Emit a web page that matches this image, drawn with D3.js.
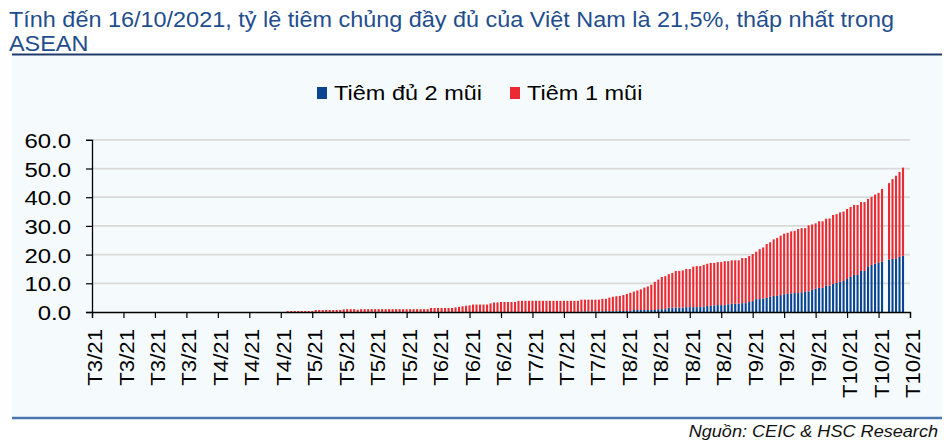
<!doctype html>
<html lang="vi">
  <head>
    <meta charset="utf-8">
    <title>Tỷ lệ tiêm chủng Việt Nam</title>
    <script src="https://d3js.org/d3.v7.min.js"></script>
    <style>
    body { margin: 0; background: #fff; }
    text { font-family: "Liberation Sans", Arial, sans-serif; }
    </style>
  </head>

  <body>
    <svg width="944" height="444"></svg>

    <script>
      // nhãn trục hoành, mỗi nhãn cách nhau 9 ngày
      var xLabels = ['T3/21','T3/21','T3/21','T3/21','T4/21','T4/21','T4/21',
        'T5/21','T5/21','T5/21','T5/21','T6/21','T6/21','T6/21','T7/21','T7/21',
        'T7/21','T8/21','T8/21','T8/21','T8/21','T9/21','T9/21','T9/21',
        'T10/21','T10/21','T10/21'];

      // % dân số đã tiêm ít nhất 1 mũi (đỉnh cột), theo ngày
      var tiemIt1Mui = [
        0,0,0,0,0,0,0,0,0,
        0,0,0,0,0,0,0,0,0,
        0,0,0,0,0,0,0,0,0,
        0,0,0,0,0,0,0,0,0,
        0,0,0,0,0,0,0,0,0,
        0,0,0,0,0,0,0,0,0,
        0,0,0.35,0.35,0.35,0.35,0.35,0.35,0.35,
        0.35,0.7,0.7,0.7,0.7,0.7,0.7,0.7,0.7,
        0.9,1.0,1.0,1.0,0.8,1.0,1.0,1.0,1.0,
        1.0,1.0,1.0,1.0,1.0,1.0,1.0,1.0,1.0,
        1.0,1.0,1.0,1.0,1.0,1.0,1.0,1.4,1.4,
        1.4,1.4,1.4,1.4,1.4,1.6,1.8,2.0,2.2,
        2.3,2.6,2.6,2.6,2.6,2.6,3.0,3.3,3.3,
        3.5,3.5,3.5,3.5,3.5,3.9,3.9,3.9,3.9,
        3.9,3.9,3.9,3.9,3.9,3.9,3.9,3.9,3.9,
        3.9,3.9,3.9,3.9,3.9,4.3,4.3,4.3,4.3,
        4.3,4.3,4.6,4.6,5.0,5.3,5.5,5.6,5.9,
        6.3,6.7,7.1,7.5,7.9,8.5,8.9,9.5,10.5,
        11.3,12.2,12.5,13.2,13.6,14.3,14.3,14.5,15.0,
        15.0,15.8,16.0,16.0,16.4,16.8,17.1,17.1,17.4,
        17.4,17.7,17.7,18.0,18.0,18.0,18.8,18.8,19.5,
        20.2,21.0,21.9,22.5,23.7,24.3,25.3,25.8,26.6,
        27.3,27.6,28.1,28.3,28.9,29.2,29.2,30.2,30.5,
        30.9,31.6,31.6,32.5,32.6,33.8,34.1,34.7,35.0,
        35.9,36.6,37.3,37.3,38.3,38.3,39.4,40.1,40.9,
        41.5,42.9,null,44.9,46.3,47.5,48.8,50.3
      ];

      // % dân số đã tiêm đủ 2 mũi, theo ngày
      var tiemDu2Mui = [
        0,0,0,0,0,0,0,0,0,
        0,0,0,0,0,0,0,0,0,
        0,0,0,0,0,0,0,0,0,
        0,0,0,0,0,0,0,0,0,
        0,0,0,0,0,0,0,0,0,
        0,0,0,0,0,0,0,0,0,
        0,0,0,0,0,0,0,0,0,
        0,0,0,0,0,0,0,0,0,
        0,0,0,0,0,0,0,0,0,
        0,0,0,0,0,0,0,0,0,
        0,0,0,0,0,0,0,0,0,
        0,0,0,0,0,0,0,0,0,
        0,0,0,0,0,0,0,0,0,
        0,0,0,0,0,0,0,0,0,
        0,0,0,0,0,0,0,0,0,
        0,0,0,0,0,0.2,0.2,0.2,0.2,
        0.2,0.2,0.3,0.3,0.3,0.3,0.3,0.35,0.35,
        0.35,0.35,0.7,0.7,0.7,0.7,0.7,0.7,0.7,
        1.0,1.0,1.0,1.5,1.5,1.5,1.5,1.5,1.7,
        1.7,1.7,1.7,1.7,1.9,2.1,2.1,2.3,2.4,
        2.4,2.4,2.7,2.9,2.9,2.9,3.1,3.1,3.5,
        3.8,4.5,4.5,4.7,4.9,5.3,5.6,5.6,5.9,
        6.2,6.3,6.5,6.6,6.6,6.9,7.0,7.2,7.7,
        8.1,8.4,8.4,9.1,9.2,9.8,10.1,10.5,10.8,
        11.5,12.2,12.9,12.9,14.3,14.3,15.7,16.4,16.8,
        17.1,17.5,null,18.2,18.5,18.5,19.2,19.6
      ];

      var yTicks = [0, 10, 20, 30, 40, 50, 60];
      var tickStep = 9;      // ngày giữa hai vạch
      var nSlots = 234;      // độ dài trục, tính bằng ngày

      var svg = d3.select('svg');
      var blue = '#0b4591', red = '#ec2a32';

      // chữ trong ảnh gốc hơi bè ngang -> kéo giãn theo chiều chữ
      function wideText(parent, tx, ty, sx, size, str) {
        return parent.append('text')
          .attr('transform', 'translate(' + tx + ',' + ty + ') scale(' + sx + ',1)')
          .style('font-size', size + 'px')
          .text(str);
      }

      // nền & đường kẻ
      svg.append('rect').attr('x', 12).attr('y', 56).attr('width', 930).attr('height', 361)
        .attr('fill', '#f5fbfc');
      svg.append('line').attr('x1', 12).attr('x2', 942).attr('y1', 54.5).attr('y2', 54.5)
        .attr('stroke', '#1f3a6a').attr('stroke-width', 2);
      svg.append('line').attr('x1', 12).attr('x2', 942).attr('y1', 418).attr('y2', 418)
        .attr('stroke', '#4a76b0').attr('stroke-width', 2.5);

      // tiêu đề
      wideText(svg, 9, 27, 1.065, 22,
        'Tính đến 16/10/2021, tỷ lệ tiêm chủng đầy đủ của Việt Nam là 21,5%, thấp nhất trong')
        .attr('fill', '#1f4e8f');
      wideText(svg, 9, 50.5, 1.065, 22, 'ASEAN').attr('fill', '#1f4e8f');

      wideText(svg, 938, 437, 1.065, 17, 'Nguồn: CEIC & HSC Research')
        .attr('text-anchor', 'end').style('font-style', 'italic').attr('fill', '#111');

      // chú thích
      var legend = [{name: 'Tiêm đủ 2 mũi', color: blue, x: 317}, {name: 'Tiêm 1 mũi', color: red, x: 510}];
      legend.forEach(function(d){
        svg.append('rect').attr('x', d.x).attr('y', 87).attr('width', 10).attr('height', 12)
          .attr('fill', d.color);
        wideText(svg, d.x + 17, 99.5, 1.12, 21, d.name).attr('fill', '#000');
      });

      // thang đo
      var x = d3.scaleLinear().domain([0, nSlots]).range([92, 910]);
      var y = d3.scaleLinear().domain([0, 60]).range([312, 139.8]);

      // lưới ngang
      svg.append('g').selectAll('line').data(yTicks.slice(1)).enter().append('line')
        .attr('x1', 92).attr('x2', 910)
        .attr('y1', function(d){ return y(d); }).attr('y2', function(d){ return y(d); })
        .attr('stroke', '#d9d9d9').attr('stroke-width', 1.75);

      // cột chồng
      var rows = tiemIt1Mui.map(function(v, i){
        return {i: i, du2: tiemDu2Mui[i], mot: v == null ? null : v - tiemDu2Mui[i]};
      }).filter(function(d){ return d.mot != null; });

      var layers = d3.stack().keys(['du2', 'mot'])(rows);
      var barW = 2.1;

      svg.append('g').selectAll('g').data(layers).enter().append('g')
        .attr('fill', function(d){ return d.key === 'du2' ? blue : red; })
        .selectAll('rect').data(function(d){ return d; }).enter().append('rect')
          .attr('x', function(d){ return x(d.data.i) - barW / 2; })
          .attr('width', barW)
          .attr('y', function(d){ return y(d[1]); })
          .attr('height', function(d){ return Math.max(0, y(d[0]) - y(d[1])); });

      // trục hoành
      var xTickVals = d3.range(0, nSlots + 1, tickStep);
      var xAxis = d3.axisBottom(x).tickValues(xTickVals).tickSize(6).tickFormat('');
      var gx = svg.append('g').attr('transform', 'translate(0,312)').call(xAxis);
      gx.select('.domain').attr('stroke', '#000').attr('stroke-width', 1.3);
      gx.selectAll('.tick line').attr('stroke', '#000').attr('stroke-width', 1.2);

      svg.append('g').selectAll('text').data(xLabels).enter().append('text')
        .attr('transform', function(d, i){
          return 'translate(' + (x(xTickVals[i]) + 3) + ',329) rotate(-90) scale(1.11,1)';
        })
        .attr('text-anchor', 'end').attr('dominant-baseline', 'central')
        .style('font-size', '20px').attr('fill', '#000')
        .text(function(d){ return d; });

      // trục tung
      var yAxis = d3.axisLeft(y).tickValues(yTicks).tickSize(6).tickFormat('');
      var gy = svg.append('g').attr('transform', 'translate(92,0)').call(yAxis);
      gy.select('.domain').attr('stroke', '#000').attr('stroke-width', 1.3);
      gy.selectAll('.tick line').attr('stroke', '#000').attr('stroke-width', 1.2);

      var fmt = d3.format('.1f');
      yTicks.forEach(function(t){
        wideText(svg, 71, y(t) + 8, 1.14, 21, fmt(t))
          .attr('text-anchor', 'end').attr('fill', '#000');
      });
    </script>
  </body>
</html>
